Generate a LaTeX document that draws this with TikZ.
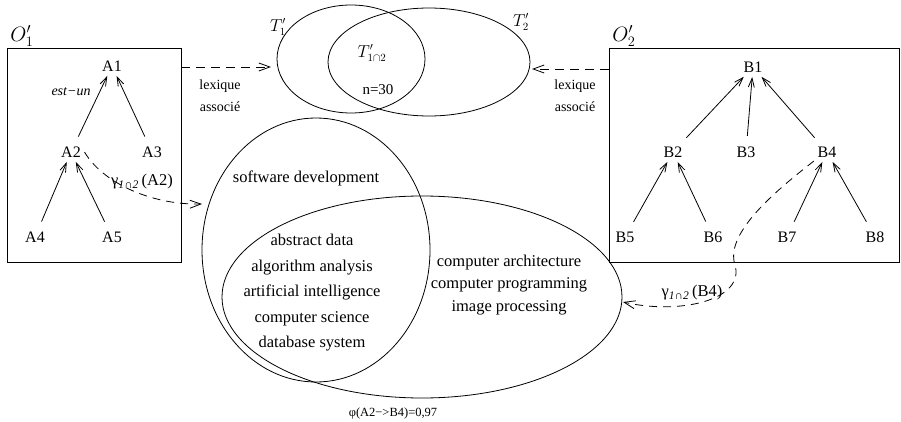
\documentclass[tikz,border=0pt]{standalone}
\usepackage{fontspec}
\setmainfont{Liberation Serif}
\usetikzlibrary{arrows.meta,shapes.geometric}
\begin{document}
\begin{tikzpicture}[x=1pt,y=-1pt,line width=0.8pt,
    tn/.style={font=\fontsize{16}{18}\selectfont},
    term/.style={font=\fontsize{16.5}{25.5}\selectfont,align=center},
    small/.style={font=\fontsize{14}{22}\selectfont,align=center},
    isa/.style={-{Straight Barb[length=9pt,width=6pt]},shorten <=7pt,shorten >=1pt},
    lex/.style={dash pattern=on 9pt off 6pt,-{Straight Barb[length=11pt,width=8pt]}},
    gam/.style={dash pattern=on 8pt off 6pt,-{Straight Barb[length=11pt,width=8pt]}},
    set/.style={draw,ellipse,inner sep=0pt,outer sep=0pt}]
    \useasboundingbox (0,0) rectangle (901,422);
    \node[draw,minimum width=174,minimum height=214] (o1) at (94,155) {};
    \node[draw,minimum width=290,minimum height=214] (o2) at (754,155) {};
    \node[font=\fontsize{20}{20}\selectfont] (o1lab) at (22,36) {$O'_1$};
    \node[font=\fontsize{20}{20}\selectfont] (o2lab) at (624,36) {$O'_2$};
    \node[tn] (a1) at (112,66) {A1};
    \node[tn] (a2) at (71,152) {A2};
    \node[tn] (a3) at (152,152) {A3};
    \node[tn] (a4) at (35,237) {A4};
    \node[tn] (a5) at (112,237) {A5};
    \node[tn] (b1) at (753,67) {B1};
    \node[tn] (b2) at (673,152) {B2};
    \node[tn] (b3) at (746,152) {B3};
    \node[tn] (b4) at (827,152) {B4};
    \node[tn] (b5) at (625,237) {B5};
    \node[tn] (b6) at (713,237) {B6};
    \node[tn] (b7) at (787,237) {B7};
    \node[tn] (b8) at (875,237) {B8};
    \foreach \c/\p in {a2/a1,a3/a1,a4/a2,a5/a2,b2/b1,b3/b1,b4/b1,b5/b2,b6/b2,b7/b4,b8/b4}
        \draw[isa] (\c) -- (\p);
    \node[font=\itshape\fontsize{14}{14}\selectfont] (estun) at (71,92) {est−un};
    \node[set,minimum width=148,minimum height=108] (t1) at (351,59) {};
    \node[set,minimum width=202,minimum height=108] (t2) at (429,62) {};
    \node[tn] (t1lab) at (278,27) {$T'_1$};
    \node[tn] (t2lab) at (521,22) {$T'_2$};
    \node[tn] (t12lab) at (372,53) {$T'_{1\cap 2}$};
    \node[font=\fontsize{15}{15}\selectfont] (n30) at (378,90) {n=30};
    \coordinate (t1in) at (271,67);
    \coordinate (t2in) at (532,69);
    \draw[lex] (o1.east |- t1in) -- (t1in);
    \draw[lex] (o2.west |- t2in) -- (t2in);
    \node[small] (lex1) at (220,96) {lexique\\associé};
    \node[small] (lex2) at (575,96) {lexique\\associé};
    \node[set,minimum width=228,minimum height=264] (sa) at (316,250) {};
    \node[set,minimum width=400,minimum height=202] (sc) at (422,297) {};
    \node[term] (sd) at (306,178) {software development};
    \node[term] (common) at (312,293) {abstract data\\algorithm analysis\\artificial intelligence\\computer science\\database system};
    \node[term,font=\fontsize{16.5}{22.5}\selectfont] (only) at (509,285) {computer architecture\\computer programming\\image processing};
    \coordinate (sain) at (202,204);
    \coordinate (scin) at (623,302);
    \draw[gam] (a2.east) .. controls (102,182) and (150,205) .. (sain);
    \draw[gam] (b4.south west) .. controls (770,195) and (725,235) .. (735,265)
        .. controls (745,300) and (680,315) .. (scin);
    \node[font=\fontsize{16.5}{16.5}\selectfont] (ga) at (142,182) {γ\textsubscript{\itshape 1∩2}\,(A2)};
    \node[font=\fontsize{16.5}{16.5}\selectfont] (gb) at (692,293) {γ\textsubscript{\itshape 1∩2}\,(B4)};
    \node[font=\fontsize{12.5}{12.5}\selectfont] (phi) at (393,413) {φ(A2−>B4)=0,97};
\end{tikzpicture}
\end{document}
